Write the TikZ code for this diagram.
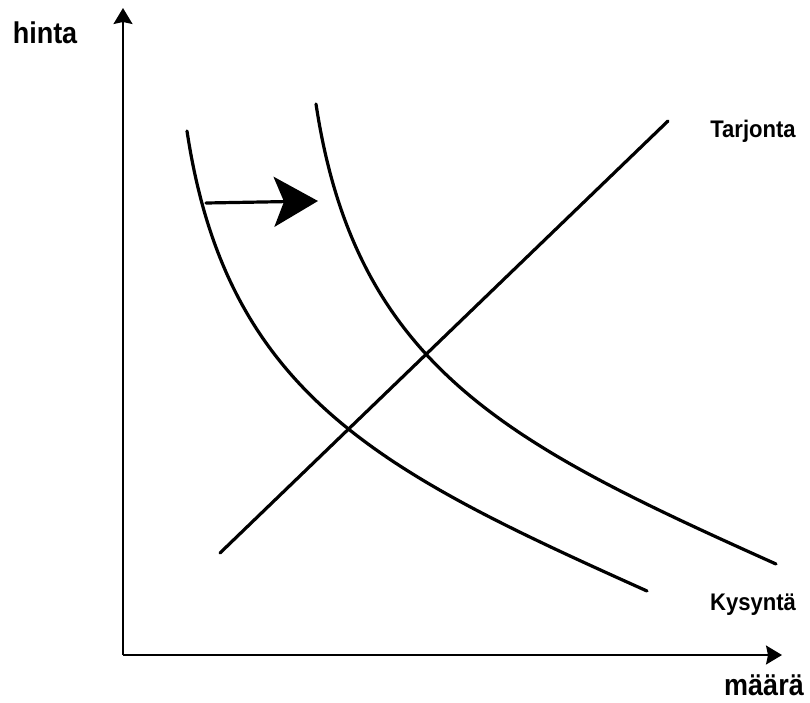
\documentclass[tikz,border=0pt]{standalone}
\usepackage{fontspec}
\setmainfont{Liberation Sans}
\usetikzlibrary{arrows.meta}
\begin{document}
\begin{tikzpicture}[x=1pt,y=-1pt,
  axis/.style={line width=1.5pt,-{Stealth[length=16pt,width=19pt,inset=2pt]}},
  curve/.style={line width=3.2pt,line cap=round},
  shiftarrow/.style={line width=3.2pt,line cap=round,-{Stealth[length=44pt,width=50pt,inset=10pt]}},
  axlabel/.style={anchor=base,inner sep=0pt,xscale=0.9,font=\bfseries\fontsize{30}{32}\selectfont},
  cvlabel/.style={anchor=base,inner sep=0pt,xscale=0.92,font=\bfseries\fontsize{24}{26}\selectfont}]
\useasboundingbox (0,0) rectangle (810,702);
\coordinate (O) at (123,655);
\coordinate (ytop) at (123,8);
\coordinate (xend) at (782,655);
\draw[axis] (O) -- (ytop);
\draw[axis] (O) -- (xend);
\node[axlabel] (hinta) at (45,43) {hinta};
\node[axlabel] (maara) at (764,695) {määrä};
% supply
\coordinate (s0) at (220,553);
\coordinate (s1) at (668,121);
\draw[curve] (s0) -- (s1);
\node[cvlabel] (tarj) at (753,137) {Tarjonta};
% demand curves
\coordinate (d1a) at (187,131);
\coordinate (d1b) at (647,591);
\coordinate (d2a) at (316,104);
\coordinate (d2b) at (776,564);
\draw[curve] (d1a) .. controls (227,396) and (382,472) .. (d1b);
\draw[curve] (d2a) .. controls (356,369) and (511,445) .. (d2b);
\node[cvlabel] (kys) at (753,610) {Kysyntä};
% shift arrow
\coordinate (a0) at (206,203);
\coordinate (a1) at (318,201);
\draw[shiftarrow] (a0) -- (a1);
\end{tikzpicture}
\end{document}
